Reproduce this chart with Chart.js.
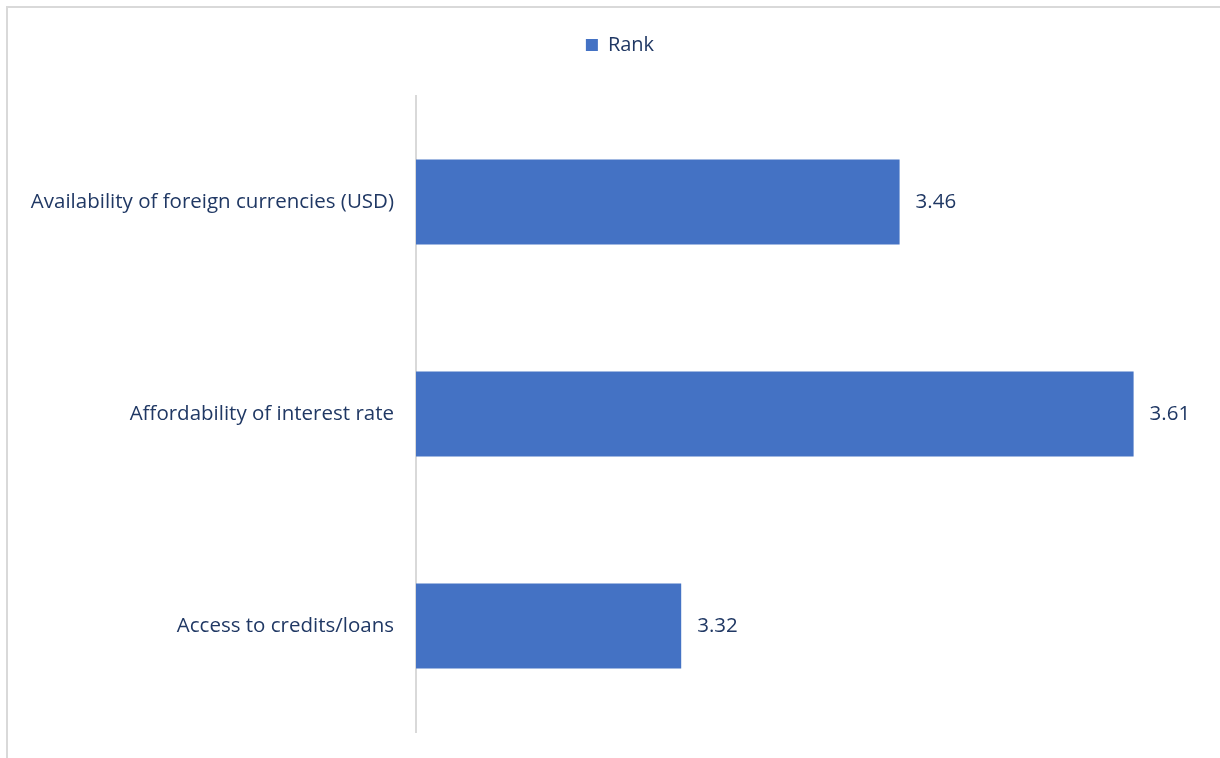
<!DOCTYPE html>
<html>
<head>
<meta charset="utf-8">
<script src="https://cdn.jsdelivr.net/npm/chart.js@4/dist/chart.umd.min.js"></script>
<style>
  html, body { margin: 0; padding: 0; background: #fff; }
  #wrap { width: 1220px; height: 758px; position: relative; }
</style>
</head>
<body>
<div id="wrap"><canvas id="rankChart" width="1220" height="758"></canvas></div>
<script>
// data
const categories = ['Availability of foreign currencies (USD)', 'Affordability of interest rate', 'Access to credits/loans'];
const rankValues = [3.46, 3.61, 3.32];
const seriesName = 'Rank';

const textColor = '#203864';
const barColor = '#4472c4';
const fontFamily = '"Open Sans", sans-serif';

// thin frame on the top and left edge
const framePlugin = {
    id: 'frame',
    beforeDraw(chart) {
        const ctx = chart.ctx;
        ctx.save();
        ctx.strokeStyle = '#d9d9d9';
        ctx.lineWidth = 2;
        ctx.beginPath();
        ctx.moveTo(7, 758);
        ctx.lineTo(7, 7);
        ctx.lineTo(1220, 7);
        ctx.stroke();
        ctx.restore();
    }
};

// value labels at the end of each bar
const valueLabels = {
    id: 'valueLabels',
    afterDatasetsDraw(chart) {
        const ctx = chart.ctx;
        const meta = chart.getDatasetMeta(0);
        ctx.save();
        ctx.font = '20.5px ' + fontFamily;
        ctx.fillStyle = textColor;
        ctx.textBaseline = 'middle';
        ctx.textAlign = 'left';
        meta.data.forEach((bar, i) => {
            ctx.fillText(rankValues[i].toFixed(2), bar.x + 16, bar.y);
        });
        ctx.restore();
    }
};

// legend block height fixed, and legend nudged right to sit over the middle of the frame
const legendTweak = {
    id: 'legendTweak',
    beforeInit(chart) {
        const origFit = chart.legend.fit;
        chart.legend.fit = function () {
            origFit.bind(chart.legend)();
            this.height = 71;
        };
    },
    afterLayout(chart) {
        chart.legend.left += 22;
        chart.legend.right += 22;
    }
};

new Chart(document.getElementById('rankChart'), {
    type: 'bar',
    data: {
        labels: categories,
        datasets: [{
            label: seriesName,
            data: rankValues,
            backgroundColor: barColor,
            borderWidth: 0,
            barPercentage: 0.4,
            categoryPercentage: 1.0
        }]
    },
    options: {
        indexAxis: 'y',
        responsive: false,
        animation: false,
        layout: { padding: { top: 25, right: 24, bottom: 26, left: 0 } },
        plugins: {
            legend: {
                position: 'top',
                labels: {
                    color: textColor,
                    font: { family: fontFamily, size: 20 },
                    boxWidth: 12,
                    boxHeight: 12,
                    padding: 10
                }
            },
            tooltip: { enabled: false }
        },
        scales: {
            x: {
                type: 'linear',
                min: 3.15,
                max: 3.65,
                display: false
            },
            y: {
                // invisible tick marks give the gap between labels and axis line
                grid: { display: true, drawOnChartArea: false, drawTicks: true, tickLength: 22, color: 'rgba(0,0,0,0)' },
                border: { display: true, color: '#d9d9d9', width: 2 },
                ticks: {
                    color: textColor,
                    font: { family: fontFamily, size: 20.5 },
                    padding: 0
                },
                afterFit(scale) { scale.width = 416; }
            }
        }
    },
    plugins: [framePlugin, valueLabels, legendTweak]
});
</script>
</body>
</html>
